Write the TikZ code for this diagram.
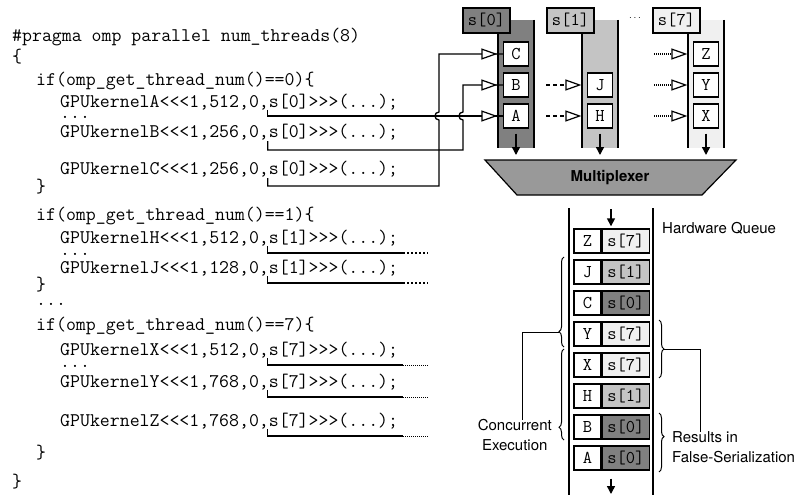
\documentclass[tikz,border=0pt]{standalone}
\usepackage{fontspec}
\setsansfont{TeX Gyre Heros}
\usetikzlibrary{arrows.meta,calc,decorations.pathreplacing,positioning}

\definecolor{sdark}{gray}{0.5}
\definecolor{smid}{gray}{0.77}
\definecolor{slight}{gray}{0.94}
\definecolor{muxgray}{gray}{0.6}

\newcommand\codefont{\ttfamily\fontsize{19.3}{22}\selectfont}
\newcommand\boxfont{\ttfamily\fontsize{18}{20}\selectfont}
\newcommand\lblfont{\sffamily\fontsize{15}{19.5}\selectfont}

\begin{document}
\begin{tikzpicture}[x=1pt,y=-1pt,
    code/.style={anchor=base west,inner sep=0pt,font=\codefont},
    kbox/.style={draw,fill=white,line width=1.2pt,minimum width=25pt,minimum height=24pt,inner sep=0pt,font=\boxfont},
    shead/.style={draw,line width=1.2pt,minimum width=47pt,minimum height=25pt,inner sep=0pt,font=\boxfont},
    qcell/.style={draw,line width=1.4pt,minimum height=24pt,inner sep=0pt,font=\boxfont},
    lane/.style={line width=2pt},
    tap/.style={line width=1.3pt},
    feed/.style={line width=1.2pt,shorten >=5.5pt,-{Triangle[length=16pt,width=11pt,fill=white]}},
    darr/.style={line width=1.5pt,-{Triangle[length=8pt,width=8pt]}},
    lbl/.style={font=\lblfont,inner sep=0pt},
    brc/.style={decorate,line width=1pt},
  ]
    \useasboundingbox (0,0) rectangle (796,495);

    % Source code
    \node[code] (pragma) at (12,42) {\#pragma omp parallel num\_threads(8)};
    \node[code] (obr) at (12,63) {\{};
    \node[code] (if0) at (36,85) {if(omp\_get\_thread\_num()==0)\{};
    \node[code] (codeA) at (60,107) {GPUkernelA<<<1,512,0,s[0]>>>(...);};
    \node[code] (dotsA) at (60,118) {...};
    \node[code] (codeB) at (60,138) {GPUkernelB<<<1,256,0,s[0]>>>(...);};
    \node[code] (codeC) at (60,175) {GPUkernelC<<<1,256,0,s[0]>>>(...);};
    \node[code] (cbr0) at (36,192) {\}};
    \node[code] (if1) at (36,220) {if(omp\_get\_thread\_num()==1)\{};
    \node[code] (codeH) at (60,243) {GPUkernelH<<<1,512,0,s[1]>>>(...);};
    \node[code] (dotsH) at (60,255) {...};
    \node[code] (codeJ) at (60,273) {GPUkernelJ<<<1,128,0,s[1]>>>(...);};
    \node[code] (cbr1) at (36,290) {\}};
    \node[code] (dotsT) at (36,305) {...};
    \node[code] (if7) at (36,330) {if(omp\_get\_thread\_num()==7)\{};
    \node[code] (codeX) at (60,355) {GPUkernelX<<<1,512,0,s[7]>>>(...);};
    \node[code] (dotsX) at (60,367) {...};
    \node[code] (codeY) at (60,387) {GPUkernelY<<<1,768,0,s[7]>>>(...);};
    \node[code] (codeZ) at (60,426) {GPUkernelZ<<<1,768,0,s[7]>>>(...);};
    \node[code] (cbr7) at (36,458) {\}};
    \node[code] (cbr) at (12,487) {\}};

    % Stream lanes
    \fill[sdark] (498,20) rectangle (534,148);
    \fill[smid] (582,20) rectangle (618,148);
    \fill[slight] (688,20) rectangle (724,148);
    \draw[lane] (498,33) -- (498,148);
    \draw[lane] (534,20) -- (534,148);
    \draw[lane] (582,33) -- (582,148);
    \draw[lane] (618,20) -- (618,148);
    \draw[lane] (688,33) -- (688,148);
    \draw[lane] (724,20) -- (724,148);

    \node[shead,fill=sdark] (s0) at (486.5,20.5) {s[0]};
    \node[shead,fill=smid] (s1) at (570.5,20.5) {s[1]};
    \node[shead,fill=slight] (s7) at (676.5,20.5) {s[7]};
    \node[inner sep=0pt] (sdots) at (635,18) {$\cdots$};

    \node[kbox] (kC) at (516,54) {C};
    \node[kbox] (kB) at (516,85) {B};
    \node[kbox] (kA) at (516,116) {A};
    \node[kbox] (kJ) at (600,85) {J};
    \node[kbox] (kH) at (600,116) {H};
    \node[kbox] (kZ) at (706,54) {Z};
    \node[kbox] (kY) at (706,85) {Y};
    \node[kbox] (kX) at (706,116) {X};

    % Launches into the streams (tap under the "s" of s[..])
    \coordinate (tA) at ($(codeA.base west)!21.5/35!(codeA.base east)+(0,3)$);
    \coordinate (tB) at ($(codeB.base west)!21.5/35!(codeB.base east)+(0,3)$);
    \coordinate (tC) at ($(codeC.base west)!21.5/35!(codeC.base east)+(0,3)$);
    \draw[tap] (tA) |- (kA.west);
    \draw[tap] (tB) |- (463,150) -- (463,120) .. controls (457.7,120) and (457.7,112) .. (463,112) |- (kB.west);
    \draw[tap] (tC) |- (439,186) -- (439,120) .. controls (433.7,120) and (433.7,112) .. (439,112) |- (kC.west);
    \draw[feed] (490,116) -- (kA.west);
    \draw[feed] (490,85) -- (kB.west);
    \draw[feed] (490,54) -- (kC.west);

    \coordinate (tH) at ($(codeH.base west)!21.5/35!(codeH.base east)+(0,3)$);
    \coordinate (tJ) at ($(codeJ.base west)!21.5/35!(codeJ.base east)+(0,3)$);
    \coordinate (eH) at (403,253);
    \coordinate (eJ) at (403,283);
    \draw[tap] (tH) |- (eH);
    \draw[tap] (tJ) |- (eJ);
    \draw[tap,dash pattern=on 2pt off 2pt] (eH) -- ++(25,0);
    \draw[tap,dash pattern=on 2pt off 2pt] (eJ) -- ++(25,0);
    \draw[feed,dash pattern=on 4pt off 3pt] (546,116) -- (kH.west);
    \draw[feed,dash pattern=on 4pt off 3pt] (546,85) -- (kJ.west);

    \coordinate (tX) at ($(codeX.base west)!21.5/35!(codeX.base east)+(0,3)$);
    \coordinate (tY) at ($(codeY.base west)!21.5/35!(codeY.base east)+(0,3)$);
    \coordinate (tZ) at ($(codeZ.base west)!21.5/35!(codeZ.base east)+(0,3)$);
    \coordinate (eX) at (403,365);
    \coordinate (eY) at (403,397);
    \coordinate (eZ) at (403,436);
    \draw[tap] (tX) |- (eX);
    \draw[tap] (tY) |- (eY);
    \draw[tap] (tZ) |- (eZ);
    \draw[line width=0.9pt,dash pattern=on 1pt off 1pt] (eX) -- ++(25,0);
    \draw[line width=0.9pt,dash pattern=on 1pt off 1pt] (eY) -- ++(25,0);
    \draw[line width=0.9pt,dash pattern=on 1pt off 1pt] (eZ) -- ++(25,0);
    \draw[feed,dash pattern=on 1pt off 1pt] (654,116) -- (kX.west);
    \draw[feed,dash pattern=on 1pt off 1pt] (654,85) -- (kY.west);
    \draw[feed,dash pattern=on 1pt off 1pt] (654,54) -- (kZ.west);

    % Multiplexer
    \draw[fill=muxgray,line width=1.2pt] (485,160) -- (736,160) -- (702,195) -- (517,195) -- cycle;
    \node[font=\sffamily\bfseries\fontsize{15}{18}\selectfont] (mux) at (610,178) {Multiplexer};
    \coordinate (muxtop) at (610,160);
    \draw[darr,shorten <=5pt,shorten >=5pt] (kA.south) -- (kA.south |- muxtop);
    \draw[darr,shorten <=5pt,shorten >=5pt] (kH.south) -- (kH.south |- muxtop);
    \draw[darr,shorten <=5pt,shorten >=5pt] (kX.south) -- (kX.south |- muxtop);

    % Hardware queue
    \draw[lane] (569,208) -- (569,495);
    \draw[lane] (653,208) -- (653,495);
    \node[lbl,anchor=west] (hwq) at (662,228) {Hardware Queue};

    \node[qcell,minimum width=27pt,fill=white] (qZ) at (587.5,241) {Z};
    \node[qcell,minimum width=47pt,fill=slight,right=0pt of qZ] (qZs) {s[7]};
    \node[qcell,minimum width=27pt,fill=white] (qJ) at (587.5,272) {J};
    \node[qcell,minimum width=47pt,fill=smid,right=0pt of qJ] (qJs) {s[1]};
    \node[qcell,minimum width=27pt,fill=white] (qC) at (587.5,303) {C};
    \node[qcell,minimum width=47pt,fill=sdark,right=0pt of qC] (qCs) {s[0]};
    \node[qcell,minimum width=27pt,fill=white] (qY) at (587.5,334) {Y};
    \node[qcell,minimum width=47pt,fill=slight,right=0pt of qY] (qYs) {s[7]};
    \node[qcell,minimum width=27pt,fill=white] (qX) at (587.5,365) {X};
    \node[qcell,minimum width=47pt,fill=slight,right=0pt of qX] (qXs) {s[7]};
    \node[qcell,minimum width=27pt,fill=white] (qH) at (587.5,396) {H};
    \node[qcell,minimum width=47pt,fill=smid,right=0pt of qH] (qHs) {s[1]};
    \node[qcell,minimum width=27pt,fill=white] (qB) at (587.5,427) {B};
    \node[qcell,minimum width=47pt,fill=sdark,right=0pt of qB] (qBs) {s[0]};
    \node[qcell,minimum width=27pt,fill=white] (qA) at (587.5,458) {A};
    \node[qcell,minimum width=47pt,fill=sdark,right=0pt of qA] (qAs) {s[0]};

    \coordinate (qin) at (611,209);
    \coordinate (qout) at (611,494);
    \draw[darr,shorten >=2pt] (qin) -- (qin |- qZ.north);
    \draw[darr,shorten <=8pt] (qin |- qA.south) -- (qout);

    % Braces and their labels
    \draw[brc,decoration={brace,amplitude=5pt,aspect=0.17}] (564,347) -- (564,257);
    \draw[brc,decoration={brace,amplitude=5pt,aspect=0.14}] (564,440) -- (564,349);
    \draw[brc,decoration={brace,amplitude=5pt,aspect=0.5}] (659,320) -- (659,378);
    \draw[brc,decoration={brace,amplitude=5pt,aspect=0.4}] (659,413) -- (659,472);
    \coordinate (tipL1) at (559,332);
    \coordinate (tipR1) at (664,349);

    \node[lbl,align=center,anchor=north east] (conc) at (552,419.5) {Concurrent\\Execution};
    \node[lbl,align=left,anchor=north west] (res) at (672,431.5) {Results in\\False-Serialization};
    \draw[line width=1pt] (tipL1) -| ([xshift=-30pt]conc.north east);
    \draw[line width=1pt] (tipR1) -| ([xshift=28pt]res.north west);
\end{tikzpicture}
\end{document}
